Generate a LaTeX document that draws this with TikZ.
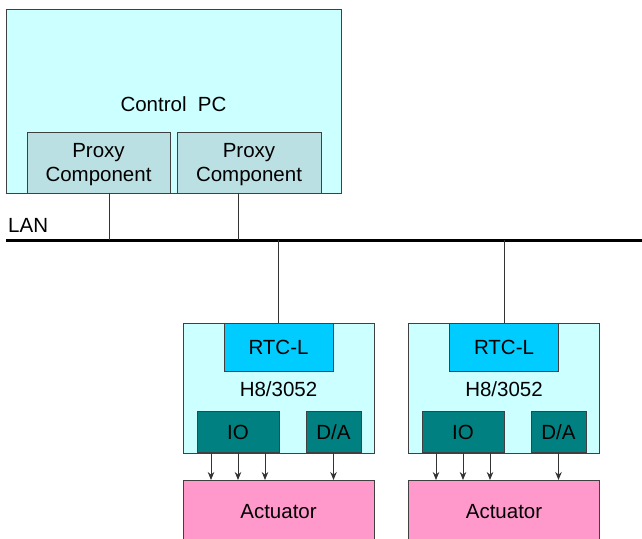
\documentclass[tikz,border=0pt]{standalone}
\usepackage{fontspec}
\setmainfont{Liberation Sans}
\usepackage{tikz}
\usetikzlibrary{arrows.meta,calc}
\definecolor{PCFill}{HTML}{CCFFFF}
\definecolor{ProxyFill}{HTML}{BBE0E3}
\definecolor{RTCFill}{HTML}{00CCFF}
\definecolor{PortFill}{HTML}{008080}
\definecolor{ActFill}{HTML}{FF99CC}
\definecolor{Edge}{HTML}{404040}
\tikzset{
  box/.style={draw=Edge, line width=0.9pt, inner sep=0pt, align=center, font=\fontsize{20.5}{24}\selectfont},
  pcbox/.style={box, fill=PCFill},
  proxy/.style={box, fill=ProxyFill},
  board/.style={box, fill=PCFill},
  rtc/.style={box, fill=RTCFill},
  port/.style={box, fill=PortFill},
  actuator/.style={box, fill=ActFill},
  label/.style={font=\fontsize{20.5}{24}\selectfont, inner sep=0pt, align=center},
  wire/.style={draw=black!80, line width=0.8pt},
  bus/.style={draw=black, line width=3pt},
  sig/.style={-{Stealth[length=8pt,width=6.5pt]}, draw=black!80, line width=0.9pt}
}

\begin{document}
\begin{tikzpicture}[x=1pt, y=-1pt]
  \useasboundingbox (0,0) rectangle (642,538);
  % Control PC with its proxies
  \node[pcbox, minimum width=335pt, minimum height=184pt] (pc) at (173.5,101) {};
  \node[label] (pclbl) at (173.5,104) {Control~ PC};
  \node[proxy, minimum width=143pt, minimum height=61pt] (prx1) at (98.5,162.5) {};
  \node[proxy, minimum width=144pt, minimum height=61pt] (prx2) at (249,162.5) {};
  \node[label] (prxlbl1) at (98.5,165) {Proxy\\Component};
  \node[label] (prxlbl2) at (249,165) {Proxy\\Component};

  % LAN
  \coordinate (lanL) at (6,240);
  \coordinate (lanR) at (642,240);
  \draw[bus] (lanL) -- (lanR);
  \node[label, anchor=south west] (lanlbl) at (8,233) {LAN};
  \coordinate (tap1) at (109,240);
  \coordinate (tap2) at (238,240);
  \draw[wire] (tap1 |- prx1.south) -- (tap1);
  \draw[wire] (tap2 |- prx2.south) -- (tap2);

  % Boards
  \foreach \n/\bx/\iox/\dax in {1/278.5/238/333.5, 2/504/463/558.5}{
    \node[board, minimum width=191pt, minimum height=130pt] (h8\n) at (\bx,388) {};
    \node[label] (h8lbl\n) at (\bx,389) {H8/3052};
    \node[rtc, minimum width=109pt, minimum height=48pt, anchor=north] (rtc\n) at (h8\n.north) {\raisebox{-2pt}{RTC-L}};
    \node[port, minimum width=82pt, minimum height=41pt, anchor=south] (io\n) at (\iox,453) {\raisebox{-2pt}{IO}};
    \node[port, minimum width=55pt, minimum height=41pt, anchor=south] (da\n) at (\dax,453) {\raisebox{-2pt}{D/A}};
    \node[actuator, minimum width=191pt, minimum height=70pt, anchor=north] (act\n) at (\bx,480) {};
    \node[label] (actlbl\n) at (\bx,512) {Actuator};
    \draw[wire] (h8\n.north) -- (h8\n.north |- lanL);
    \foreach \k/\dx in {a/-27,b/0,c/27}{
      \coordinate (out\n\k) at ($(io\n.south)+(\dx,0)$);
      \draw[sig] (out\n\k) -- (out\n\k |- act\n.north);
    }
    \draw[sig] (da\n.south) -- (da\n.south |- act\n.north);
  }
\end{tikzpicture}
\end{document}
